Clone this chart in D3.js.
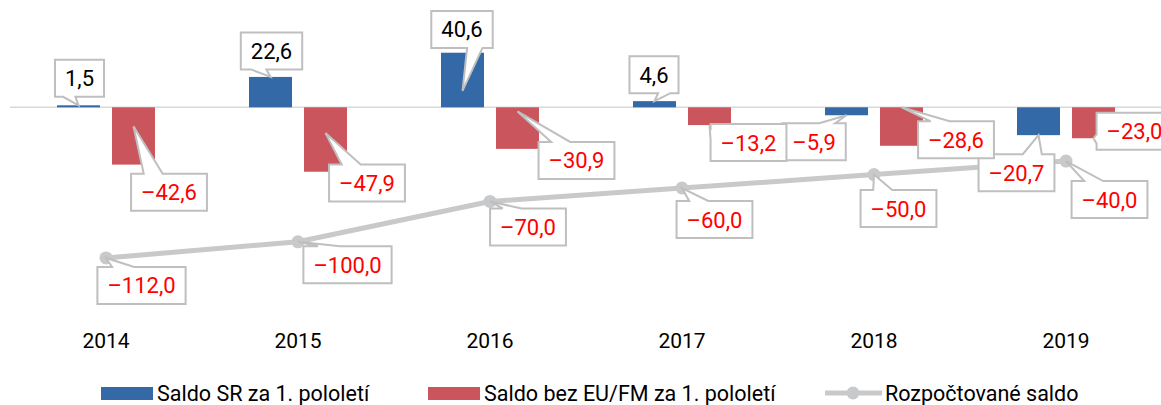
<!DOCTYPE html>
<html>
<head>
<meta charset="utf-8">
<script src="https://cdn.jsdelivr.net/npm/d3@7"></script>
<style>
  body { margin: 0; background: #fff; }
  svg { display: block; font-family: Roboto, "Noto Sans", sans-serif; }
</style>
</head>
<body>
<div id="chart"></div>
<script>
// data
var years = ['2014', '2015', '2016', '2017', '2018', '2019'];
var saldoSR = [1.5, 22.6, 40.6, 4.6, -5.9, -20.7];
var saldoBezEU = [-42.6, -47.9, -30.9, -13.2, -28.6, -23.0];
var rozpoctovane = [-112.0, -100.0, -70.0, -60.0, -50.0, -40.0];
var seriesNames = ['Saldo SR za 1. pololetí', 'Saldo bez EU/FM za 1. pololetí', 'Rozpočtované saldo'];

// callout placement: box offset from the tip [dx, dy], and where the tip sits on the bar (0 = base, 1 = end)
var srCallouts = [[1, -27, 1], [1, -26, 1], [-0.5, -61.5, 0.3], [-0.5, -26.5, 1], [-32.5, 26.5, 1], [-22, 37.5, 1]];
var bezCallouts = [[35.5, 66, 0.33], [41.5, 50, 0.4], [59, 49, 0.1], [39, 17.5, 1], [54.5, 32.5, 0], [41, -7, 1]];
var lineCallouts = [[35.5, 27.5], [49.5, 23], [38, 25.5], [32.5, 31.5], [24.5, 34], [43.5, 38.5]];

var width = 1161, height = 405;
var blue = '#3469a8', red = '#cb555c', grey = '#c8c9ca';

var svg = d3.select('#chart').append('svg')
    .attr('width', width)
    .attr('height', height);

var x0 = d3.scaleBand().domain(years).range([10, 1162]);
var x1 = d3.scaleBand().domain(['sr', 'bez']).range([-49, 49]).paddingInner(12 / 55);
var y = d3.scaleLinear().domain([-120, 45]).range([268.7, 46.8]);

var fmt = function(v) {
  return (v < 0 ? '\u2013' : '') + d3.format('.1f')(Math.abs(v)).replace('.', ',');
};
var cx = function(i) { return x0(years[i]) + x0.bandwidth() / 2; };

// zero line
svg.append('line')
    .attr('x1', 10).attr('x2', width)
    .attr('y1', y(0)).attr('y2', y(0))
    .attr('stroke', '#d9d9d9')
    .attr('stroke-width', 1.5);

// bars
svg.append('g').selectAll('rect')
  .data(saldoSR)
  .join('rect')
    .attr('x', (d, i) => cx(i) + x1('sr'))
    .attr('y', d => Math.min(y(d), y(0)))
    .attr('width', x1.bandwidth())
    .attr('height', d => Math.abs(y(d) - y(0)))
    .attr('fill', blue);

svg.append('g').selectAll('rect')
  .data(saldoBezEU)
  .join('rect')
    .attr('x', (d, i) => cx(i) + x1('bez'))
    .attr('y', d => Math.min(y(d), y(0)))
    .attr('width', x1.bandwidth())
    .attr('height', d => Math.abs(y(d) - y(0)))
    .attr('fill', red);

// budget line
var line = d3.line()
    .x((d, i) => cx(i))
    .y(d => y(d));

svg.append('path')
    .datum(rozpoctovane)
    .attr('d', line)
    .attr('fill', 'none')
    .attr('stroke', grey)
    .attr('stroke-width', 5)
    .attr('stroke-linejoin', 'round');

svg.append('g').selectAll('circle')
  .data(rozpoctovane)
  .join('circle')
    .attr('cx', (d, i) => cx(i))
    .attr('cy', d => y(d))
    .attr('r', 6.5)
    .attr('fill', grey);

// x axis (years)
svg.append('g')
    .attr('transform', 'translate(0,348)')
    .call(d3.axisBottom(x0).tickSize(0).tickPadding(0))
    .call(g => g.select('.domain').remove())
    .call(g => g.selectAll('text')
        .attr('y', 0).attr('dy', 0)
        .attr('fill', '#000')
        .style('font-size', '21px')
        .style('font-family', 'Roboto, sans-serif'));

// callouts
function calloutPath(bx, by, w, h, tx, ty) {
  var l = bx - w / 2, t = by - h / 2, r = bx + w / 2, b = by + h / 2;
  var dx = tx - bx, dy = ty - by;
  var dq = dx * h / w;
  var pts;
  if (Math.abs(dy) >= Math.abs(dq)) {
    var xa = l + w * (dx > 0 ? 7 : 2) / 12, xb = l + w * (dx > 0 ? 10 : 5) / 12;
    if (dy < 0) pts = [[l, t], [xa, t], [tx, ty], [xb, t], [r, t], [r, b], [l, b]];
    else pts = [[l, t], [r, t], [r, b], [xb, b], [tx, ty], [xa, b], [l, b]];
  } else {
    var ya = t + h * (dy > 0 ? 7 : 2) / 12, yb = t + h * (dy > 0 ? 10 : 5) / 12;
    if (dx < 0) pts = [[l, t], [r, t], [r, b], [l, b], [l, yb], [tx, ty], [l, ya]];
    else pts = [[l, t], [r, t], [r, ya], [tx, ty], [r, yb], [r, b], [l, b]];
  }
  return 'M' + pts.join('L') + 'Z';
}

var labels = [];
saldoSR.forEach(function(v, i) {
  var c = srCallouts[i];
  labels.push({v: v, tx: cx(i) + x1('sr') + x1.bandwidth() / 2, ty: y(0) + c[2] * (y(v) - y(0)), dx: c[0], dy: c[1]});
});
saldoBezEU.forEach(function(v, i) {
  var c = bezCallouts[i];
  labels.push({v: v, tx: cx(i) + x1('bez') + x1.bandwidth() / 2, ty: y(0) + c[2] * (y(v) - y(0)), dx: c[0], dy: c[1]});
});
rozpoctovane.forEach(function(v, i) {
  var c = lineCallouts[i];
  labels.push({v: v, tx: cx(i), ty: y(v), dx: c[0], dy: c[1]});
});

var boxH = 37;
var callouts = svg.append('g').selectAll('g')
  .data(labels)
  .join('g');

callouts.append('path');
callouts.append('text')
    .attr('x', d => d.tx + d.dx)
    .attr('y', d => d.ty + d.dy + 8)
    .attr('text-anchor', 'middle')
    .attr('fill', d => d.v < 0 ? '#ff0000' : '#000')
    .style('font-size', '22px')
    .text(d => fmt(d.v));

callouts.each(function(d) {
  var g = d3.select(this);
  var w = g.select('text').node().getComputedTextLength() + 20;
  g.select('path')
      .attr('d', calloutPath(d.tx + d.dx, d.ty + d.dy, w, boxH, d.tx, d.ty))
      .attr('fill', '#fff')
      .attr('stroke', '#bfbfbf')
      .attr('stroke-width', 2)
      .attr('stroke-linejoin', 'miter');
});

// legend
var legend = svg.append('g').style('font-size', '21.5px');

legend.append('rect').attr('x', 101).attr('y', 387).attr('width', 52).attr('height', 13).attr('fill', blue);
legend.append('text').attr('x', 157).attr('y', 401).text(seriesNames[0]);

legend.append('rect').attr('x', 428).attr('y', 387).attr('width', 52).attr('height', 13).attr('fill', red);
legend.append('text').attr('x', 484).attr('y', 401).text(seriesNames[1]);

legend.append('line').attr('x1', 825).attr('x2', 882).attr('y1', 393).attr('y2', 393)
    .attr('stroke', grey).attr('stroke-width', 5);
legend.append('circle').attr('cx', 853).attr('cy', 393).attr('r', 6.5).attr('fill', grey);
legend.append('text').attr('x', 885).attr('y', 401).text(seriesNames[2]);
</script>
</body>
</html>
